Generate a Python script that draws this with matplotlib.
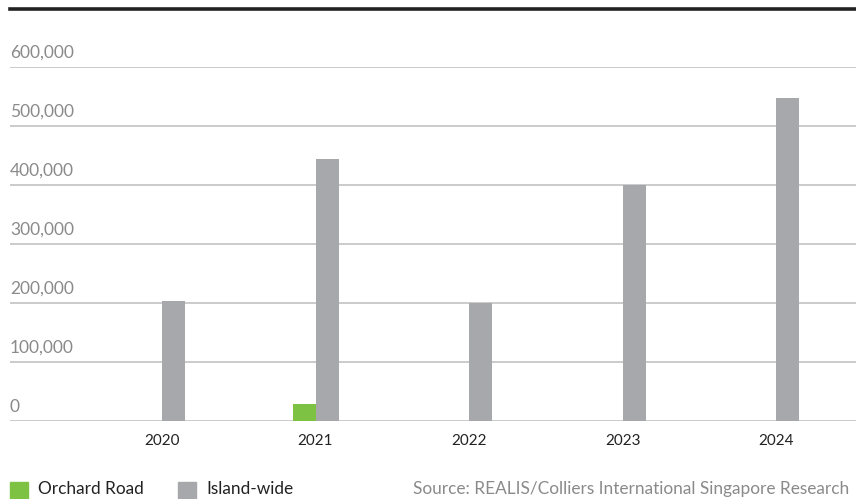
import numpy as np
import matplotlib.pyplot as plt
from matplotlib.lines import Line2D
from matplotlib.patches import Rectangle

plt.rcParams['font.family'] = ['Lato', 'DejaVu Sans']

# Data
years = ["2020", "2021", "2022", "2023", "2024"]
orchard_road = [0, 29000, 0, 0, 0]
island_wide = [204000, 444500, 200000, 400000, 548000]
y_ticks = [0, 100000, 200000, 300000, 400000, 500000, 600000]
series_names = ["Orchard Road", "Island-wide"]
series_colors = ["#7dc242", "#a7a8ab"]
source_text = "Source: REALIS/Colliers International Singapore Research"

W, H = 856, 499
fig = plt.figure(figsize=(W / 100, H / 100), dpi=100)

# plot area in pixels: left 10, right 856, top (600k) 67.3, bottom (0) 421.3
ax = fig.add_axes([10 / W, (H - 421.3) / H, 846 / W, (421.3 - 67.3) / H])

x = np.arange(len(years))
bw = 0.15
ax.bar(x - bw / 2, orchard_road, width=bw, color=series_colors[0], zorder=3)
ax.bar(x + bw / 2, island_wide, width=bw, color=series_colors[1], zorder=3)

ax.set_xlim(-0.99, 4.52)
ax.set_ylim(0, 600000)

for s in ax.spines.values():
    s.set_visible(False)

# horizontal gridlines with labels sitting above them
for v in y_ticks:
    ax.axhline(v, color="#bdbdbd", lw=1.1, zorder=1)
    ax.annotate(f"{v:,}", xy=(0, v), xycoords=ax.get_yaxis_transform(),
                xytext=(0, 4.5), textcoords="offset points",
                ha="left", va="bottom", fontsize=12.5, color="#8a8a8a")

ax.set_yticks([])
ax.set_xticks(x)
ax.set_xticklabels(years, fontsize=11, color="#222222")
ax.tick_params(axis="x", length=0, pad=9)

# heavy rule across the top
fig.add_artist(Line2D([10 / W, 1], [1 - 8.5 / H, 1 - 8.5 / H],
                      color="#222222", lw=2.6))

# legend along the bottom
leg_x = [10, 178]
for lx, name, col in zip(leg_x, series_names, series_colors):
    fig.add_artist(Rectangle((lx / W, (H - 500) / H), 18 / W, 18 / H,
                             transform=fig.transFigure, color=col))
    fig.text((lx + 28) / W, (H - 489) / H, name, fontsize=12.4,
             color="#222222", ha="left", va="center")

fig.text(413 / W, (H - 489) / H, source_text, fontsize=12.4,
         color="#8a8a8a", ha="left", va="center")

fig.savefig("out.png", dpi=100)
